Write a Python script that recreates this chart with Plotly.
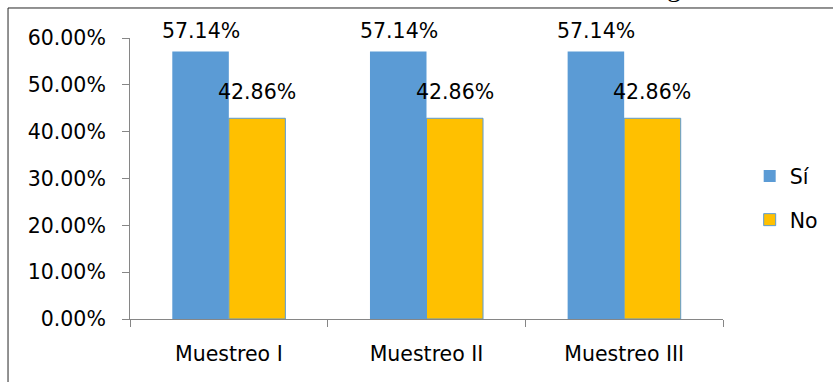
import plotly.graph_objects as go

categories = ["Muestreo I", "Muestreo II", "Muestreo III"]
si_values = [0.5714, 0.5714, 0.5714]
no_values = [0.4286, 0.4286, 0.4286]
series_names = ["Sí", "No"]
y_ticks = [0, 0.1, 0.2, 0.3, 0.4, 0.5, 0.6]
header_left = "se analizaron todas las muestras de carne molida,"
header_right = "obteniéndose los siguientes resultados"

BLUE = "#5B9BD5"
GOLD = "#FFC000"
FONT = "DejaVu Sans"
FS = 20.5

fig = go.Figure()
fig.add_trace(go.Bar(x=categories, y=si_values, name=series_names[0],
                     marker=dict(color=BLUE, line=dict(width=0)),
                     legendgroup="a", hoverinfo="skip"))
fig.add_trace(go.Bar(x=categories, y=no_values, name=series_names[1],
                     marker=dict(color=GOLD, line=dict(color=BLUE, width=1)),
                     legendgroup="b", hoverinfo="skip"))

annotations = []
for c, v in zip(categories, si_values):
    annotations.append(dict(x=c, y=v, xref="x", yref="y", text=f"{v*100:.2f}%",
                            showarrow=False, xshift=-28, yshift=6, yanchor="bottom",
                            font=dict(family=FONT, size=FS, color="black")))
for c, v in zip(categories, no_values):
    annotations.append(dict(x=c, y=v, xref="x", yref="y", text=f"{v*100:.2f}%",
                            showarrow=False, xshift=28, yshift=12, yanchor="bottom",
                            font=dict(family=FONT, size=FS, color="black")))
# cut-off text from the document above the chart
annotations.append(dict(x=(443 - 130) / 593, y=1.182, xref="paper", yref="paper",
                        xanchor="right", yanchor="middle", showarrow=False,
                        text=header_left,
                        font=dict(family="Liberation Serif", size=28, color="black")))
annotations.append(dict(x=(452 - 130) / 593, y=1.182, xref="paper", yref="paper",
                        xanchor="left", yanchor="middle", showarrow=False,
                        text=header_right,
                        font=dict(family="Liberation Serif", size=28, color="black")))

fig.update_layout(
    width=833, height=382,
    margin=dict(l=130, r=110, t=38, b=63, autoexpand=False),
    paper_bgcolor="white", plot_bgcolor="white",
    barmode="group", bargap=0.428, bargroupgap=0,
    font=dict(family=FONT, size=FS, color="black"),
    showlegend=True,
    legend=dict(x=1.045, y=0.43, xanchor="left", yanchor="middle",
                font=dict(family=FONT, size=FS, color="black"),
                tracegroupgap=14, bgcolor="rgba(0,0,0,0)"),
    annotations=annotations,
    shapes=[dict(type="rect", xref="paper", yref="paper",
                 x0=-0.2057, x1=1.2, y0=-0.3, y1=1.1068,
                 line=dict(color="#262626", width=1), layer="below")],
)
fig.update_yaxes(range=[0, 0.6], tickvals=y_ticks, tickformat=".2%",
                 showgrid=False, zeroline=False, showline=True, linecolor="#868686",
                 linewidth=1, ticks="outside", ticklen=7, tickcolor="#868686",
                 ticklabelstandoff=12,
                 tickfont=dict(family=FONT, size=FS, color="black"))
fig.update_xaxes(showgrid=False, showline=True, linecolor="#868686", linewidth=1,
                 ticks="outside", ticklen=7, tickcolor="#868686", tickson="boundaries",
                 ticklabelstandoff=16,
                 tickfont=dict(family=FONT, size=FS, color="black"))

fig.write_html("out.html")
